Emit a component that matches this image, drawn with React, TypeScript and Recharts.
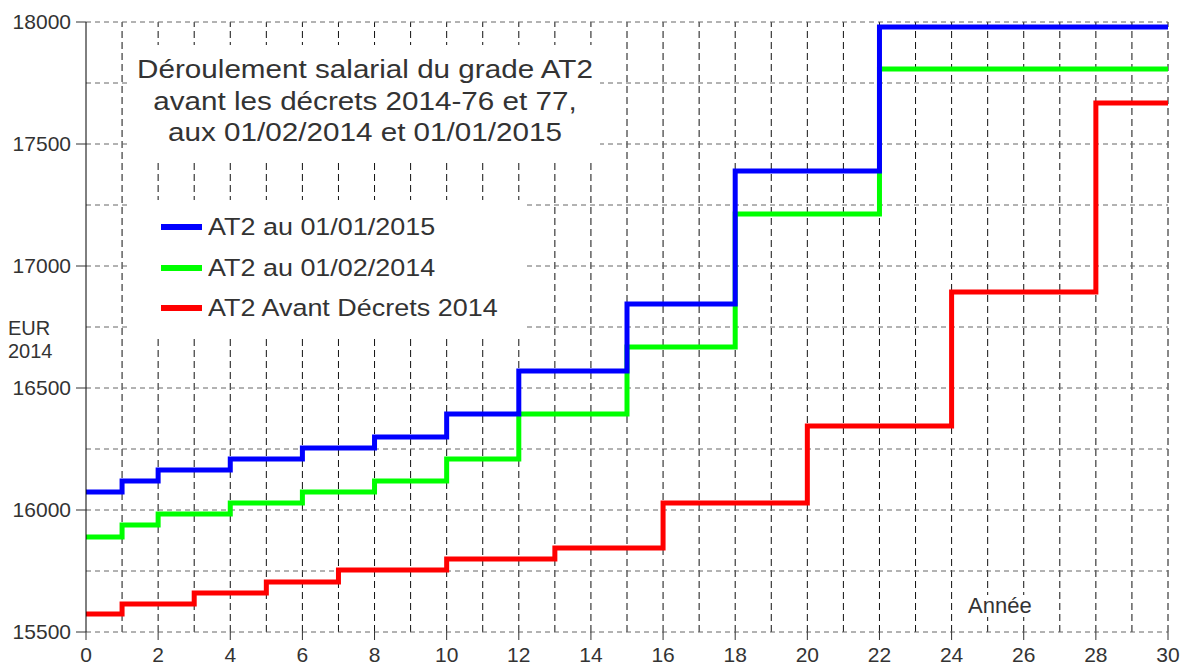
import React from "react";
import { LineChart, Line, XAxis, YAxis, ReferenceLine, Legend } from "recharts";

// years (x) and salary grid / tick values
const yearTicks = [0, 2, 4, 6, 8, 10, 12, 14, 16, 18, 20, 22, 24, 26, 28, 30];
const yearGrid = [1, 2, 3, 4, 5, 6, 7, 8, 9, 10, 11, 12, 13, 14, 15, 16, 17, 18, 19, 20, 21, 22, 23, 24, 25, 26, 27, 28, 29, 30];
const salaryTicks = [15500, 16000, 16500, 17000, 17500, 18000];
const salaryGrid = [15500, 15750, 16000, 16250, 16500, 16750, 17000, 17250, 17500, 17750, 18000];
const lastYear = 30;

// échelon start years and salary (EUR 2014)
const stepYearsAT2 = [0, 1, 2, 4, 6, 8, 10, 12, 15, 18, 22];
const at2Jan2015 = [16074, 16119, 16164, 16209, 16254, 16299, 16393, 16570, 16844, 17389, 17980];
const at2Feb2014 = [15889, 15939, 15984, 16029, 16074, 16119, 16209, 16393, 16668, 17213, 17807];
const stepYearsOld = [0, 1, 3, 5, 7, 10, 13, 16, 20, 24, 28];
const at2Avant = [15574, 15615, 15660, 15705, 15754, 15799, 15844, 16029, 16344, 16893, 17668];

type Pt = { annee: number; eur: number };

const toSteps = (years: number[], values: number[]): Pt[] => [
  ...years.map((x, i) => ({ annee: x, eur: values[i] })),
  { annee: lastYear, eur: values[values.length - 1] },
];

// legend order
const series = [
  { name: "AT2 au 01/01/2015", color: "#0000ff", data: toSteps(stepYearsAT2, at2Jan2015) },
  { name: "AT2 au 01/02/2014", color: "#00ff00", data: toSteps(stepYearsAT2, at2Feb2014) },
  { name: "AT2 Avant Décrets 2014", color: "#ff0000", data: toSteps(stepYearsOld, at2Avant) },
];

const font = "'Liberation Sans', Arial, sans-serif";
const textColor = "#333";

const LegendBox = () => (
  <div style={{ paddingTop: 7, paddingLeft: 31, background: "#fff", height: "100%", boxSizing: "border-box" }}>
    {series.map((s) => (
      <div key={s.name} style={{ height: 40.5, display: "flex", alignItems: "center" }}>
        <span style={{ display: "inline-block", width: 41, height: 6, background: s.color }} />
        <span
          style={{
            marginLeft: 6,
            fontFamily: font,
            fontSize: 24.5,
            color: textColor,
            whiteSpace: "nowrap",
            display: "inline-block",
            transform: "scaleX(1.1)",
            transformOrigin: "left center",
          }}
        >
          {s.name}
        </span>
      </div>
    ))}
  </div>
);

const App: React.FC = () => {
  const tickStyle = { fontSize: 21, fill: textColor, fontFamily: font };
  return (
    <div style={{ position: "absolute", left: 0, top: 0, width: 1181, height: 666, background: "#fff" }}>
      <LineChart width={1181} height={666} margin={{ top: 22, right: 13, bottom: 0, left: 0 }}>
        <XAxis
          type="number"
          dataKey="annee"
          domain={[0, 30]}
          ticks={yearTicks}
          height={34}
          axisLine={false}
          tickLine={{ stroke: "#333" }}
          tickSize={8}
          tickMargin={7}
          tick={tickStyle}
          allowDuplicatedCategory={false}
        />
        <YAxis
          type="number"
          domain={[15500, 18000]}
          ticks={salaryTicks}
          width={86}
          axisLine={{ stroke: "#000" }}
          tickLine={{ stroke: "#333" }}
          tickSize={10}
          tickMargin={5}
          tick={tickStyle}
        />
        {yearGrid.map((v) => (
          <ReferenceLine key={`x${v}`} x={v} stroke="#111" strokeDasharray="7 4" />
        ))}
        {salaryGrid.map((v) => (
          <ReferenceLine key={`y${v}`} y={v} stroke="#666" strokeDasharray="5 4" />
        ))}
        {[...series].reverse().map((s) => (
          <Line
            key={s.name}
            data={s.data}
            dataKey="eur"
            name={s.name}
            type="stepAfter"
            stroke={s.color}
            strokeWidth={5}
            dot={false}
            activeDot={false}
            isAnimationActive={false}
          />
        ))}
        <Legend
          layout="vertical"
          align="center"
          verticalAlign="middle"
          wrapperStyle={{ left: 130, top: 200, width: 395, height: 135 }}
          content={() => <LegendBox />}
        />
      </LineChart>

      <div
        style={{
          position: "absolute",
          left: 130,
          top: 45,
          width: 470,
          height: 118,
          paddingTop: 9,
          boxSizing: "border-box",
          background: "#fff",
          textAlign: "center",
          fontFamily: font,
          fontSize: 26,
          lineHeight: "31.5px",
          color: textColor,
        }}
      >
        <div style={{ transform: "scaleX(1.14)" }}>
          <div>Déroulement salarial du grade AT2</div>
          <div>avant les décrets 2014-76 et 77,</div>
          <div>aux 01/02/2014 et 01/01/2015</div>
        </div>
      </div>

      <div
        style={{
          position: "absolute",
          left: 8,
          top: 317,
          fontFamily: font,
          fontSize: 20,
          lineHeight: "23px",
          color: textColor,
        }}
      >
        <div>EUR</div>
        <div>2014</div>
      </div>

      <div
        style={{
          position: "absolute",
          left: 968,
          top: 595,
          fontFamily: font,
          fontSize: 22,
          lineHeight: 1,
          color: textColor,
          background: "#fff",
        }}
      >
        Année
      </div>
    </div>
  );
};

export default App;
